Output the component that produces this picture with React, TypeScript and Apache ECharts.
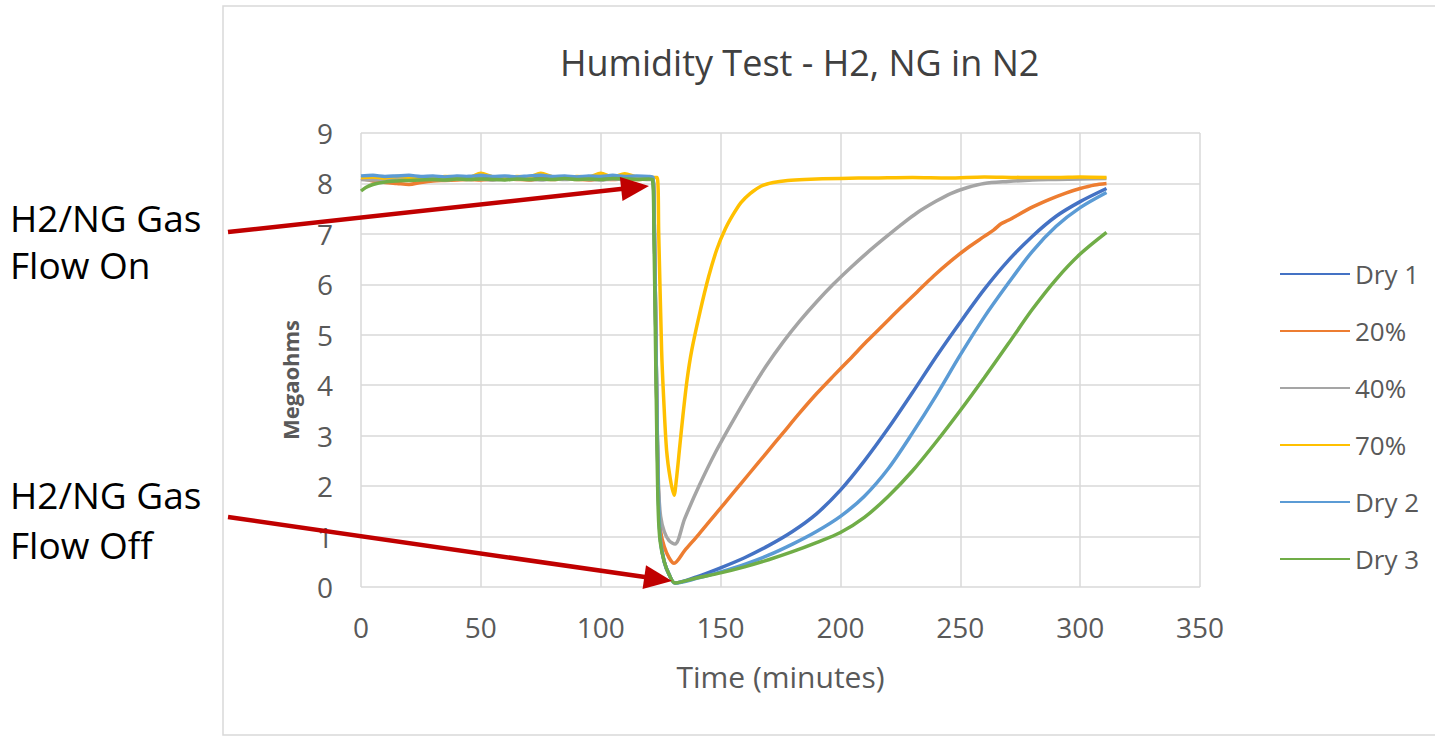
import React, { useEffect, useRef } from "react";
import * as echarts from "echarts";

const seriesNames = ["Dry 1", "20%", "40%", "70%", "Dry 2", "Dry 3"];
const seriesColors = ["#4472C4", "#ED7D31", "#A5A5A5", "#FFC000", "#5B9BD5", "#70AD47"];
const xTicks = { min: 0, max: 350, interval: 50 };
const yTicks = { min: 0, max: 9, interval: 1 };

const dry1: [number, number][] = [
  [0, 8.12], [5, 8.13], [10, 8.12], [15, 8.14], [20, 8.12], [25, 8.13], [30, 8.11], [35, 8.13],
  [40, 8.12], [45, 8.14], [50, 8.12], [55, 8.13], [60, 8.11], [65, 8.13], [70, 8.12], [75, 8.14],
  [80, 8.12], [85, 8.13], [90, 8.11], [95, 8.13], [100, 8.12], [105, 8.14], [110, 8.12], [115, 8.13],
  [120, 8.12], [121.8, 8.1], [122.4, 7.0], [123, 5.0], [123.6, 3.0], [124.2, 1.6], [125, 0.9],
  [126.5, 0.5], [128.5, 0.25], [131, 0.08], [140, 0.2], [150, 0.38], [160, 0.58], [170, 0.82],
  [180, 1.1], [190, 1.45], [200, 1.92], [210, 2.5], [220, 3.15], [230, 3.85], [240, 4.57],
  [250, 5.25], [260, 5.9], [270, 6.47], [280, 6.95], [290, 7.35], [300, 7.64], [311, 7.9],
];

const rh20: [number, number][] = [
  [0, 8.1], [5, 8.05], [10, 8.02], [15, 8.0], [20, 7.98], [25, 8.02], [30, 8.05], [35, 8.06],
  [40, 8.07], [45, 8.08], [50, 8.07], [55, 8.08], [60, 8.09], [65, 8.08], [70, 8.07], [75, 8.09],
  [80, 8.08], [85, 8.09], [90, 8.08], [95, 8.07], [100, 8.09], [105, 8.08], [110, 8.09], [115, 8.08],
  [120, 8.09], [121.8, 8.08], [122.4, 7.0], [123, 5.0], [123.6, 3.0], [124.2, 1.7], [125, 1.1],
  [126.5, 0.8], [128.5, 0.58], [130.6, 0.47], [135, 0.72], [141, 1.05], [148, 1.45], [155, 1.85],
  [162, 2.25], [169, 2.65], [176, 3.05], [183, 3.45], [190, 3.83], [197, 4.18], [204, 4.52],
  [211, 4.87], [218, 5.2], [225, 5.53], [232, 5.85], [239, 6.17], [246, 6.46], [253, 6.72],
  [260, 6.95], [264, 7.08], [267, 7.2], [270, 7.27], [280, 7.53], [287, 7.68], [294, 7.81],
  [300, 7.9], [306, 7.97], [311, 8.0],
];

const rh40: [number, number][] = [
  [0, 8.08], [5, 8.07], [10, 8.09], [15, 8.08], [20, 8.07], [25, 8.09], [30, 8.08], [35, 8.07],
  [40, 8.09], [45, 8.08], [50, 8.09], [55, 8.07], [60, 8.08], [65, 8.09], [70, 8.08], [75, 8.07],
  [80, 8.09], [85, 8.08], [90, 8.09], [95, 8.08], [100, 8.07], [105, 8.09], [110, 8.08], [115, 8.09],
  [120, 8.08], [121.8, 8.08], [122.4, 7.0], [123, 5.0], [123.6, 3.1], [124.2, 1.9], [125, 1.4],
  [126.5, 1.1], [128.5, 0.92], [131, 0.85], [135, 1.35], [141, 2.0], [148, 2.68], [155, 3.28],
  [162, 3.85], [169, 4.38], [176, 4.85], [183, 5.27], [190, 5.65], [197, 6.0], [204, 6.32],
  [211, 6.62], [218, 6.9], [225, 7.17], [232, 7.42], [240, 7.65], [246, 7.8], [253, 7.92],
  [260, 8.0], [270, 8.04], [280, 8.07], [290, 8.08], [300, 8.09], [311, 8.1],
];

const rh70: [number, number][] = [
  [0, 8.12], [5, 8.13], [10, 8.11], [15, 8.14], [20, 8.12], [25, 8.13], [30, 8.12], [35, 8.14],
  [40, 8.13], [45, 8.12], [50, 8.2], [55, 8.13], [60, 8.12], [65, 8.14], [70, 8.13], [75, 8.2],
  [80, 8.13], [85, 8.12], [90, 8.14], [95, 8.13], [100, 8.2], [105, 8.13], [110, 8.19], [115, 8.13],
  [120, 8.12], [123.5, 8.12], [124.2, 7.0], [125.4, 4.7], [126.3, 3.7], [127.5, 2.7], [129, 2.15],
  [130.6, 1.82], [131.5, 2.1], [133, 2.8], [134.3, 3.4], [136, 4.1], [138, 4.7], [141.4, 5.45],
  [145, 6.15], [148.5, 6.7], [152, 7.1], [155.2, 7.38], [158.5, 7.62], [162.3, 7.8], [167, 7.95],
  [172, 8.02], [178, 8.06], [185, 8.08], [200, 8.1], [215, 8.11], [230, 8.12], [245, 8.11],
  [260, 8.13], [275, 8.12], [290, 8.12], [300, 8.13], [311, 8.12],
];

const dry2: [number, number][] = [
  [0, 8.15], [5, 8.16], [10, 8.14], [15, 8.15], [20, 8.16], [25, 8.14], [30, 8.15], [35, 8.13],
  [40, 8.15], [45, 8.14], [50, 8.16], [55, 8.14], [60, 8.15], [65, 8.13], [70, 8.15], [75, 8.16],
  [80, 8.14], [85, 8.15], [90, 8.13], [95, 8.15], [100, 8.14], [105, 8.16], [110, 8.14], [115, 8.15],
  [120, 8.14], [121.8, 8.12], [122.4, 7.0], [123, 5.0], [123.6, 3.0], [124.2, 1.6], [125, 0.9],
  [126.5, 0.5], [128.5, 0.25], [131, 0.08], [140, 0.17], [150, 0.3], [160, 0.45], [170, 0.63],
  [180, 0.85], [190, 1.1], [200, 1.4], [210, 1.8], [220, 2.35], [230, 3.05], [240, 3.8],
  [250, 4.6], [260, 5.35], [270, 6.02], [280, 6.65], [290, 7.15], [300, 7.52], [311, 7.82],
];

const dry3: [number, number][] = [
  [0, 7.85], [2, 7.92], [5, 7.98], [10, 8.03], [15, 8.05], [20, 8.06], [25, 8.07], [30, 8.08],
  [35, 8.07], [40, 8.09], [45, 8.08], [50, 8.09], [55, 8.08], [60, 8.07], [65, 8.09], [70, 8.08],
  [75, 8.09], [80, 8.08], [85, 8.1], [90, 8.08], [95, 8.09], [100, 8.08], [105, 8.1], [110, 8.09],
  [115, 8.08], [120, 8.09], [121.6, 8.08], [122.2, 7.0], [122.8, 5.0], [123.4, 3.0], [124, 1.5],
  [124.8, 0.9], [126.5, 0.5], [128.5, 0.25], [131, 0.08], [140, 0.18], [150, 0.28], [160, 0.4],
  [170, 0.54], [180, 0.7], [190, 0.88], [200, 1.08], [210, 1.38], [220, 1.8], [230, 2.3],
  [240, 2.88], [250, 3.5], [260, 4.15], [270, 4.82], [280, 5.5], [290, 6.1], [300, 6.6], [311, 7.03],
];

const seriesData = [dry1, rh20, rh40, rh70, dry2, dry3];

const annotationOn = ["H2/NG Gas", "Flow On"];
const annotationOff = ["H2/NG Gas", "Flow Off"];

function arrow(x1: number, y1: number, x2: number, y2: number, color: string) {
  const dx = x2 - x1;
  const dy = y2 - y1;
  const len = Math.sqrt(dx * dx + dy * dy);
  const ux = dx / len;
  const uy = dy / len;
  const headLen = 28;
  const headHalf = 12;
  const bx = x2 - ux * headLen;
  const by = y2 - uy * headLen;
  return [
    {
      type: "line",
      shape: { x1, y1, x2: bx + ux * 4, y2: by + uy * 4 },
      style: { stroke: color, lineWidth: 4.5 },
      z: 100,
    },
    {
      type: "polygon",
      shape: {
        points: [
          [x2, y2],
          [bx - uy * headHalf, by + ux * headHalf],
          [bx + uy * headHalf, by - ux * headHalf],
        ],
      },
      style: { fill: color },
      z: 100,
    },
  ];
}

function labelTexts(lines: string[], x: number, y0: number, gap: number) {
  return lines.map((t, i) => ({
    type: "text",
    x,
    y: y0 + i * gap,
    style: {
      text: t,
      fill: "#000000",
      font: '37px "Open Sans"',
      verticalAlign: "middle",
      align: "left",
    },
    z: 100,
  }));
}

export default function App() {
  const ref = useRef<HTMLDivElement>(null);
  useEffect(() => {
    if (!ref.current) return;
    const chart = echarts.init(ref.current, undefined, { renderer: "svg" });
    const textColor = "#595959";
    const font = "Open Sans";
    chart.setOption({
      animation: false,
      backgroundColor: "#ffffff",
      title: {
        text: "Humidity Test - H2, NG in N2",
        left: 555,
        top: 39,
        textStyle: { fontFamily: font, fontSize: 36, fontWeight: "normal", color: "#404040" },
      },
      grid: { left: 361, top: 133, width: 839, height: 454, containLabel: false },
      legend: {
        orient: "vertical",
        left: 1275,
        top: 256,
        itemWidth: 70,
        itemHeight: 20,
        itemGap: 31,
        icon: "path://M0,9 L70,9 L70,11 L0,11 Z",
        data: seriesNames,
        textStyle: { fontFamily: font, fontSize: 26, color: textColor, lineHeight: 20 },
      },
      xAxis: {
        type: "value",
        min: xTicks.min,
        max: xTicks.max,
        interval: xTicks.interval,
        name: "Time (minutes)",
        nameLocation: "middle",
        nameGap: 74,
        nameTextStyle: { fontFamily: font, fontSize: 30, color: textColor },
        axisLine: { show: false },
        axisTick: { show: false },
        axisLabel: { fontFamily: font, fontSize: 28, color: textColor, margin: 26 },
        splitLine: { show: true, lineStyle: { color: "#D9D9D9", width: 1.5 } },
      },
      yAxis: {
        type: "value",
        min: yTicks.min,
        max: yTicks.max,
        interval: yTicks.interval,
        axisLine: { show: false },
        axisTick: { show: false },
        axisLabel: { fontFamily: font, fontSize: 28, color: textColor, margin: 28 },
        splitLine: { show: true, lineStyle: { color: "#D9D9D9", width: 1.5 } },
      },
      series: seriesNames.map((name, i) => ({
        name,
        type: "line",
        data: seriesData[i],
        symbol: "none",
        showSymbol: false,
        smooth: 0.3,
        color: seriesColors[i],
        lineStyle: { width: 3.5, color: seriesColors[i] },
        itemStyle: { color: seriesColors[i] },
      })),
      graphic: [
        {
          type: "rect",
          shape: { x: 223, y: 6, width: 1300, height: 729 },
          style: { fill: "none", stroke: "#D9D9D9", lineWidth: 1.5 },
          z: -1,
        },
        {
          type: "text",
          x: 290,
          y: 380,
          rotation: Math.PI / 2,
          style: {
            text: "Megaohms",
            fill: textColor,
            font: 'bold 22px "Open Sans"',
            align: "center",
            verticalAlign: "middle",
          },
          z: 100,
        },
        ...labelTexts(annotationOn, 10, 217, 47),
        ...labelTexts(annotationOff, 10, 494, 50),
        ...arrow(228, 232, 649, 186, "#C00000"),
        ...arrow(228, 517, 672, 581, "#C00000"),
      ],
    });
    return () => chart.dispose();
  }, []);
  return (
    <div
      ref={ref}
      style={{ position: "absolute", left: 0, top: 0, width: 1435, height: 736 }}
    />
  );
}
